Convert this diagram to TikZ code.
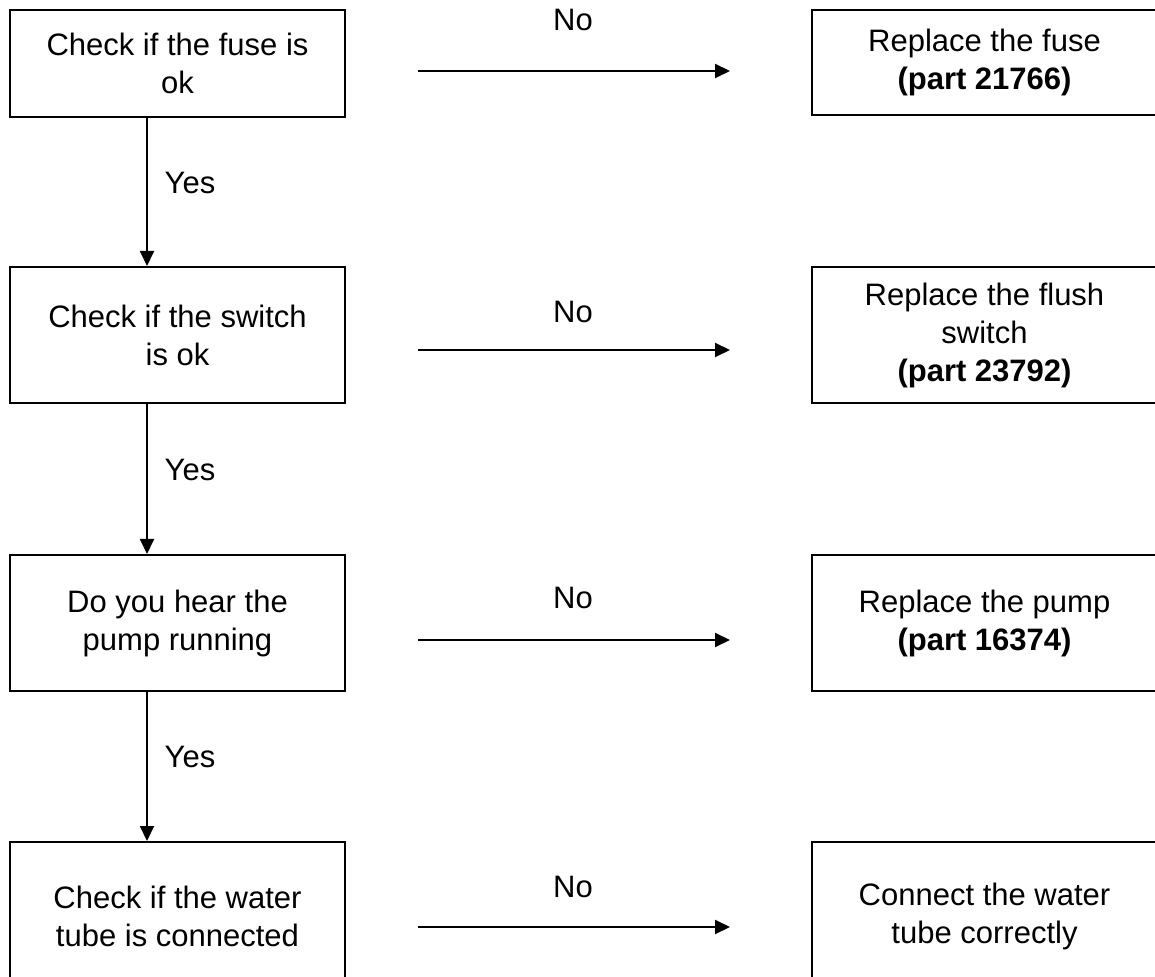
\documentclass[tikz,border=0pt]{standalone}
\usepackage{fontspec}
\setmainfont{Liberation Sans}
\usetikzlibrary{arrows.meta}

\tikzset{
  box/.style={draw, line width=1pt, inner sep=0pt, align=center,
    font=\fontsize{15.5}{19}\selectfont},
  leftbox/.style={box, minimum width=167.5pt},
  rightbox/.style={box, minimum width=172.5pt},
  arr/.style={line width=1pt, -{Triangle[length=7.5pt,width=7pt]}},
  lbl/.style={inner sep=0pt, font=\fontsize{15.5}{19}\selectfont}
}

\begin{document}
\begin{tikzpicture}[x=0.5pt,y=-0.5pt]
\useasboundingbox (0,0) rectangle (1155,977);
%\draw[style=help lines] (0,0) grid (1155,977);

% checks
\node[leftbox, minimum height=53.5pt] (fuse) at (177.5,63.5) {Check if the fuse is\\ok};
\node[leftbox, minimum height=68pt] (switch) at (177.5,335) {Check if the switch\\is ok};
\node[leftbox, minimum height=68pt] (pump) at (177.5,623) {Do you hear the\\pump running};
\node[leftbox, minimum height=74pt] (tube) at (177.5,916) {Check if the water\\tube is connected};

% remedies
\node[rightbox, minimum height=52.5pt] (newfuse) at (984.5,62.5) {Replace the fuse\\\textbf{(part 21766)}};
\node[rightbox, minimum height=68pt] (newswitch) at (984.5,335) {Replace the flush\\switch\\\textbf{(part 23792)}};
\node[rightbox, minimum height=68pt] (newpump) at (984.5,623) {Replace the pump\\\textbf{(part 16374)}};
\node[rightbox, minimum height=74pt] (fixtube) at (984.5,916) {Connect the water\\tube correctly};

% yes path
\coordinate (spine) at (147,0);
\draw[arr] (fuse.south -| spine) -- (switch.north -| spine);
\draw[arr] (switch.south -| spine) -- (pump.north -| spine);
\draw[arr] (pump.south -| spine) -- (tube.north -| spine);
\node[lbl] (yes1) at (190,183) {Yes};
\node[lbl] (yes2) at (190,470) {Yes};
\node[lbl] (yes3) at (190,757) {Yes};

% no path
\coordinate (nofrom1) at (418,71);  \coordinate (noto1) at (730,71);
\coordinate (nofrom2) at (418,350); \coordinate (noto2) at (730,350);
\coordinate (nofrom3) at (418,640); \coordinate (noto3) at (730,640);
\coordinate (nofrom4) at (418,927); \coordinate (noto4) at (730,927);
\draw[arr] (nofrom1) -- (noto1);
\draw[arr] (nofrom2) -- (noto2);
\draw[arr] (nofrom3) -- (noto3);
\draw[arr] (nofrom4) -- (noto4);
\node[lbl] (no1) at (573,20) {No};
\node[lbl] (no2) at (573,312) {No};
\node[lbl] (no3) at (573,598) {No};
\node[lbl] (no4) at (573,887) {No};

\end{tikzpicture}
\end{document}
